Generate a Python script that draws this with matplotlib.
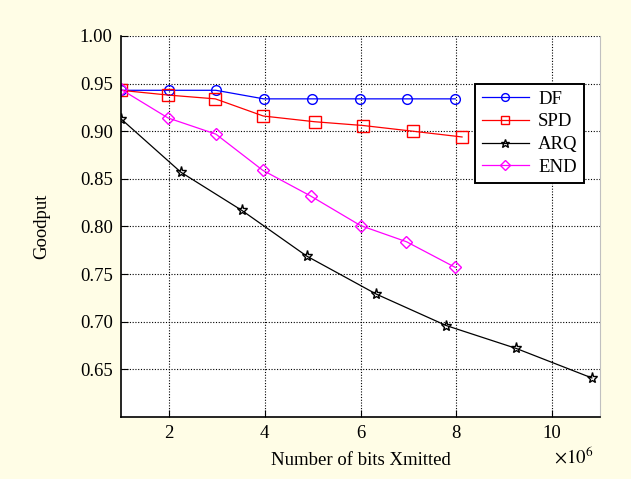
import matplotlib.pyplot as plt
import numpy as np

plt.rcParams['font.family'] = ['Liberation Serif', 'DejaVu Serif']
plt.rcParams['mathtext.fontset'] = 'stix'

# data: x in units of 10^6 bits, y goodput
df_x = [1.0, 2.0, 2.98, 3.98, 4.98, 5.98, 6.98, 7.98]
df_y = [0.943, 0.943, 0.943, 0.934, 0.934, 0.934, 0.934, 0.934]

spd_x = [1.0, 1.98, 2.97, 3.97, 5.04, 6.06, 7.1, 8.12]
spd_y = [0.943, 0.938, 0.934, 0.916, 0.910, 0.906, 0.900, 0.894]

arq_x = [1.0, 2.25, 3.52, 4.875, 6.33, 7.79, 9.25, 10.83]
arq_y = [0.913, 0.857, 0.817, 0.769, 0.729, 0.696, 0.672, 0.641]

end_x = [1.0, 1.98, 2.98, 3.96, 4.96, 6.0, 6.96, 7.98]
end_y = [0.944, 0.914, 0.897, 0.859, 0.832, 0.801, 0.784, 0.757]

bg = '#fffde6'
fs = 13.5
fig = plt.figure(figsize=(6.31, 4.79), dpi=100, facecolor=bg)
ax = fig.add_axes([121 / 631, 62 / 479, 479 / 631, 381 / 479])
ax.set_facecolor('white')

ms = 7
lw = 0.9
ax.plot(df_x, df_y, color='blue', marker='o', mfc='none', ms=ms, lw=lw, label='DF')
ax.plot(spd_x, spd_y, color='red', marker='s', mfc='none', ms=ms + 1, lw=lw, label='SPD')
ax.plot(arq_x, arq_y, color='black', marker='*', mfc='none', ms=ms + 1, lw=lw, label='ARQ')
ax.plot(end_x, end_y, color='magenta', marker='D', mfc='none', ms=ms - 0.5, lw=lw, label='END')

ax.set_xlim(1, 11)
ax.set_ylim(0.6, 1.0)
ax.set_xticks([2, 4, 6, 8, 10])
ax.set_yticks([0.65, 0.70, 0.75, 0.80, 0.85, 0.90, 0.95, 1.00])
ax.yaxis.set_major_formatter(plt.FormatStrFormatter('%.2f'))

ax.grid(True, color='black', linestyle=(0, (1, 1.5)), linewidth=0.8)
ax.tick_params(direction='in', labelsize=fs, length=5, pad=6)
ax.spines['top'].set_visible(False)
ax.spines['right'].set_color('#c0c0c0')
ax.spines['left'].set_linewidth(1.2)
ax.spines['bottom'].set_linewidth(1.2)

ax.set_xlabel('Number of bits Xmitted', fontsize=fs, labelpad=7)
ax.set_ylabel('Goodput', fontsize=fs, labelpad=21)
ax.text(0.985, -0.105, r'$\times10^{6}$', transform=ax.transAxes,
        ha='right', va='center', fontsize=fs)

leg = ax.legend(loc='upper right', bbox_to_anchor=(0.967, 0.874), fontsize=fs,
                fancybox=False, framealpha=1, edgecolor='black', handlelength=2.5,
                borderpad=0.35, labelspacing=0.3, markerscale=0.8, handletextpad=0.5,
                borderaxespad=0)
leg.get_frame().set_linewidth(1.4)

fig.savefig('out.png', dpi=100, facecolor=bg)
